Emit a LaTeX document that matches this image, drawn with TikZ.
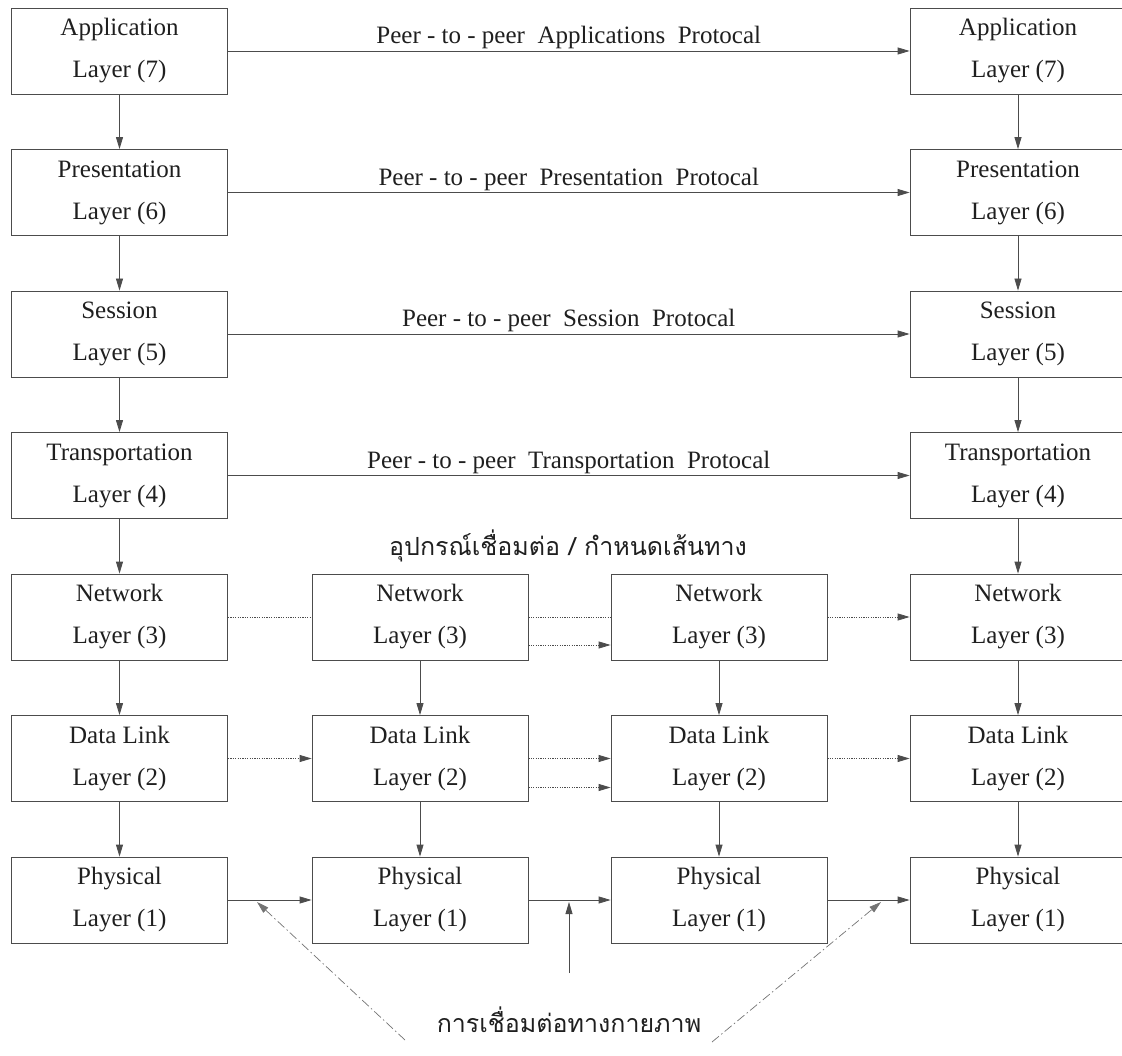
\documentclass[tikz,border=0pt]{standalone}
\usepackage{fontspec}
\setmainfont{Liberation Serif}
\newfontfamily\thaifont[Script=Thai]{Loma}
\usetikzlibrary{arrows.meta,calc}
\begin{document}
\begin{tikzpicture}[x=1pt,y=-1pt,
  layerbox/.style={draw=black!70, line width=0.8pt, minimum width=216pt, minimum height=86pt,
    align=center, font=\fontsize{25}{42}\selectfont, text=black!88, inner sep=0pt},
  conn/.style={draw=black!70, line width=0.8pt, -{Triangle[length=12pt,width=7pt]}},
  plainconn/.style={draw=black!70, line width=0.8pt},
  dotconn/.style={conn, dash pattern=on 1.2pt off 1.2pt},
  dotplain/.style={plainconn, dash pattern=on 1.2pt off 1.2pt},
  dashdotconn/.style={draw=black!55, line width=0.7pt, dash pattern=on 9pt off 3pt on 1.5pt off 3pt,
    -{Triangle[length=12pt,width=7pt]}},
  protolabel/.style={above, inner sep=1.5pt, font=\fontsize{25}{30}\selectfont, text=black!88},
  thailabel/.style={font=\thaifont\fontsize{25}{30}\selectfont, text=black!88, inner sep=0pt}
]
\useasboundingbox (0,0) rectangle (1122,1056);
\clip (0,0) rectangle (1122,1056);

% left column
\node[layerbox] (a1) at (119.5,51) {Application\\Layer (7)};
\node[layerbox] (p1) at (119.5,192.5) {Presentation\\Layer (6)};
\node[layerbox] (s1) at (119.5,334) {Session\\Layer (5)};
\node[layerbox] (t1) at (119.5,475.5) {Transportation\\Layer (4)};
\node[layerbox] (n1) at (119.5,617) {Network\\Layer (3)};
\node[layerbox] (d1) at (119.5,758.5) {Data Link\\Layer (2)};
\node[layerbox] (h1) at (119.5,900) {Physical\\Layer (1)};

% second column
\node[layerbox] (n2) at (420,617) {Network\\Layer (3)};
\node[layerbox] (d2) at (420,758.5) {Data Link\\Layer (2)};
\node[layerbox] (h2) at (420,900) {Physical\\Layer (1)};

% third column
\node[layerbox] (n3) at (719,617) {Network\\Layer (3)};
\node[layerbox] (d3) at (719,758.5) {Data Link\\Layer (2)};
\node[layerbox] (h3) at (719,900) {Physical\\Layer (1)};

% right column
\node[layerbox] (a4) at (1018,51) {Application\\Layer (7)};
\node[layerbox] (p4) at (1018,192.5) {Presentation\\Layer (6)};
\node[layerbox] (s4) at (1018,334) {Session\\Layer (5)};
\node[layerbox] (t4) at (1018,475.5) {Transportation\\Layer (4)};
\node[layerbox] (n4) at (1018,617) {Network\\Layer (3)};
\node[layerbox] (d4) at (1018,758.5) {Data Link\\Layer (2)};
\node[layerbox] (h4) at (1018,900) {Physical\\Layer (1)};

% vertical arrows
\foreach \u/\v in {a1/p1,p1/s1,s1/t1,t1/n1,n1/d1,d1/h1,n2/d2,d2/h2,n3/d3,d3/h3,a4/p4,p4/s4,s4/t4,t4/n4,n4/d4,d4/h4}
  \draw[conn] (\u.south) -- (\v.north);

% peer protocols
\draw[conn] (a1.east) -- node[protolabel] {Peer - to - peer\ \ Applications\ \ Protocal} (a4.west);
\draw[conn] (p1.east) -- node[protolabel] {Peer - to - peer\ \ Presentation\ \ Protocal} (p4.west);
\draw[conn] (s1.east) -- node[protolabel] {Peer - to - peer\ \ Session\ \ Protocal} (s4.west);
\draw[conn] (t1.east) -- node[protolabel] {Peer - to - peer\ \ Transportation\ \ Protocal} (t4.west);

% thai label (routing devices)
\node[thailabel] (route) at (568,546) {อุปกรณ์เชื่อมต่อ / กำหนดเส้นทาง};

% network row
\draw[dotplain] (n1.east) -- (n2.west);
\draw[dotplain] (n2.east) -- (n3.west);
\draw[dotconn] ([yshift=-28pt]n2.east) -- ([yshift=-28pt]n3.west);
\draw[dotconn] (n3.east) -- (n4.west);

% data link row
\draw[dotconn] (d1.east) -- (d2.west);
\draw[dotconn] (d2.east) -- (d3.west);
\draw[dotconn] ([yshift=-29pt]d2.east) -- ([yshift=-29pt]d3.west);
\draw[dotconn] (d3.east) -- (d4.west);

% physical row
\draw[conn] (h1.east) -- (h2.west);
\draw[conn] (h2.east) -- (h3.west);
\draw[conn] (h3.east) -- (h4.west);

% physical connection label
\node[thailabel] (phys) at (569,1020) {การเชื่อมต่อทางกายภาพ};
\coordinate (lfoot) at (405,1040);
\coordinate (ltip) at (257,902);
\coordinate (mfoot) at (569,973);
\coordinate (mtip) at (569,902);
\coordinate (rfoot) at (712,1042);
\coordinate (rtip) at (881,902);
\draw[dashdotconn] (lfoot) -- (ltip);
\draw[conn] (mfoot) -- (mtip);
\draw[dashdotconn] (rfoot) -- (rtip);
\end{tikzpicture}
\end{document}
